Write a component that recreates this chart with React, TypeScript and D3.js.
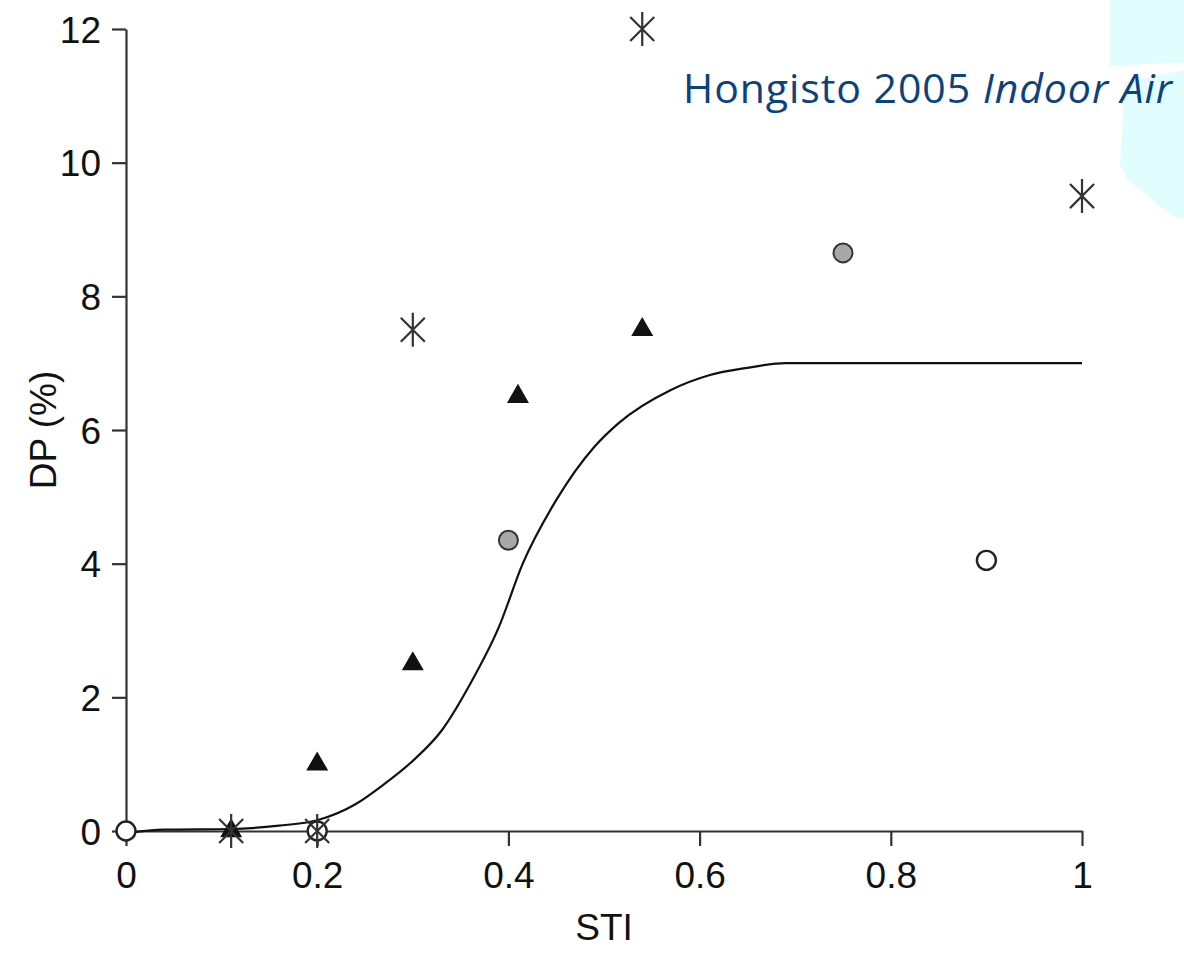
import React, { useRef, useEffect } from "react";
import * as d3 from "d3";

// data (STI vs DP %)
const starPts = [
  { sti: 0.11, dp: 0 },
  { sti: 0.2, dp: 0 },
  { sti: 0.3, dp: 7.5 },
  { sti: 0.54, dp: 12 },
  { sti: 1.0, dp: 9.5 },
];
const trianglePts = [
  { sti: 0.11, dp: 0 },
  { sti: 0.2, dp: 1.0 },
  { sti: 0.3, dp: 2.5 },
  { sti: 0.41, dp: 6.5 },
  { sti: 0.54, dp: 7.5 },
];
const greyPts = [
  { sti: 0.4, dp: 4.35 },
  { sti: 0.75, dp: 8.65 },
];
const openPts = [
  { sti: 0, dp: 0 },
  { sti: 0.2, dp: 0 },
  { sti: 0.9, dp: 4.05 },
];
const fitCurve = [
  { sti: 0, dp: -0.03 },
  { sti: 0.04, dp: 0.02 },
  { sti: 0.11, dp: 0.03 },
  { sti: 0.16, dp: 0.08 },
  { sti: 0.2, dp: 0.16 },
  { sti: 0.24, dp: 0.4 },
  { sti: 0.27, dp: 0.7 },
  { sti: 0.3, dp: 1.05 },
  { sti: 0.33, dp: 1.5 },
  { sti: 0.36, dp: 2.2 },
  { sti: 0.39, dp: 3.05 },
  { sti: 0.415, dp: 4.0 },
  { sti: 0.45, dp: 4.95 },
  { sti: 0.49, dp: 5.75 },
  { sti: 0.515, dp: 6.1 },
  { sti: 0.57, dp: 6.6 },
  { sti: 0.61, dp: 6.82 },
  { sti: 0.65, dp: 6.93 },
  { sti: 0.69, dp: 7.0 },
  { sti: 1.0, dp: 7.0 },
];
const xTicks = [0, 0.2, 0.4, 0.6, 0.8, 1];
const yTicks = [0, 2, 4, 6, 8, 10, 12];

const App = () => {
  const svgRef = useRef(null);

  useEffect(() => {
    document.body.style.margin = "0";
    const width = 1184;
    const height = 953;
    const svg = d3.select(svgRef.current).attr("width", width).attr("height", height);
    svg.selectAll("*").remove();

    svg.append("rect").attr("width", width).attr("height", height).attr("fill", "#fff");

    // light cyan decoration top right
    const cyan = "#e2fdfd";
    svg.append("polygon")
      .attr("points", "1110,0 1184,0 1184,62 1110,66")
      .attr("fill", cyan);
    svg.append("polygon")
      .attr("points", "1125,82 1184,70 1184,218 1172,216 1128,180 1120,165")
      .attr("fill", cyan);

    const x = d3.scaleLinear().domain([0, 1]).range([126, 1082]);
    const y = d3.scaleLinear().domain([0, 12]).range([831, 29]);

    const font = "'Liberation Sans', Arial, Helvetica, sans-serif";
    const axisColor = "#333";

    const yAxis = svg.append("g")
      .attr("transform", "translate(126,0)")
      .call(d3.axisLeft(y).tickValues(yTicks).tickSize(14).tickSizeOuter(0).tickPadding(11).tickFormat(d3.format("d")));
    const xAxis = svg.append("g")
      .attr("transform", "translate(0,831)")
      .call(d3.axisBottom(x).tickValues(xTicks).tickSize(15).tickSizeOuter(0).tickPadding(16)
        .tickFormat((d) => (d === 0 ? "0" : d === 1 ? "1" : d3.format(".1f")(d))));

    [yAxis, xAxis].forEach((a) => {
      a.select(".domain").attr("stroke", axisColor).attr("stroke-width", 2.2);
      a.selectAll(".tick line").attr("stroke", axisColor).attr("stroke-width", 2.2);
      a.selectAll(".tick text").attr("fill", "#111").style("font-family", font).style("font-size", "37px");
    });
    yAxis.selectAll(".tick text").attr("dy", "0.36em");

    svg.append("text")
      .attr("x", x(0.5)).attr("y", 940)
      .attr("text-anchor", "middle")
      .style("font-family", font).style("font-size", "37px").attr("fill", "#111")
      .text("STI");
    svg.append("text")
      .attr("transform", `translate(56,${y(6)}) rotate(-90)`)
      .attr("text-anchor", "middle")
      .style("font-family", font).style("font-size", "37px").attr("fill", "#111")
      .text("DP (%)");

    // fitted curve
    const line = d3.line().x((d) => x(d.sti)).y((d) => y(d.dp)).curve(d3.curveMonotoneX);
    svg.append("path")
      .datum(fitCurve)
      .attr("d", line)
      .attr("fill", "none")
      .attr("stroke", "#111")
      .attr("stroke-width", 2.2);

    // open circles
    svg.selectAll(".open").data(openPts).enter().append("circle")
      .attr("cx", (d) => x(d.sti)).attr("cy", (d) => y(d.dp)).attr("r", 9.5)
      .attr("fill", "#fff").attr("stroke", "#222").attr("stroke-width", 2.4);

    // grey circles
    svg.selectAll(".grey").data(greyPts).enter().append("circle")
      .attr("cx", (d) => x(d.sti)).attr("cy", (d) => y(d.dp)).attr("r", 9.5)
      .attr("fill", "#a8a8a8").attr("stroke", "#333").attr("stroke-width", 2);

    // triangles
    const tri = d3.symbol().type(d3.symbolTriangle).size(210);
    svg.selectAll(".tri").data(trianglePts).enter().append("path")
      .attr("transform", (d) => `translate(${x(d.sti)},${y(d.dp)})`)
      .attr("d", tri)
      .attr("fill", "#111");

    // asterisks
    const r = 17;
    const d45 = r * Math.SQRT1_2;
    const star = `M0,${-r}L0,${r}M${-d45},${-d45}L${d45},${d45}M${-d45},${d45}L${d45},${-d45}`;
    svg.selectAll(".star").data(starPts).enter().append("path")
      .attr("transform", (d) => `translate(${x(d.sti)},${y(d.dp)})`)
      .attr("d", star)
      .attr("fill", "none")
      .attr("stroke", "#333")
      .attr("stroke-width", 2.2);

    // citation
    const cite = svg.append("text")
      .attr("x", 683).attr("y", 103)
      .attr("textLength", 489)
      .attr("lengthAdjust", "spacing")
      .style("font-family", "'Open Sans', sans-serif").style("font-size", "41px")
      .attr("fill", "#0b427e");
    cite.append("tspan").text("Hongisto 2005 ");
    cite.append("tspan").style("font-style", "italic").text("Indoor Air");
  }, []);

  return <svg ref={svgRef} style={{ display: "block" }} />;
};

export default App;
